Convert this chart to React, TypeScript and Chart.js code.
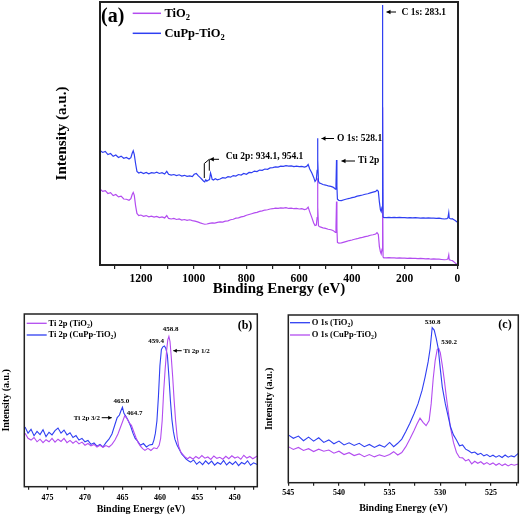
import React, { useEffect, useRef } from 'react';
import { Chart, registerables } from 'chart.js';

Chart.register(...registerables);

const SERIF = '"Liberation Serif", "Times New Roman", Times, serif';
const BLUE = '#2f3ff2';
const VIOLET = '#b34cf0';

type Pt = [number, number];

// ---------- Panel (a): survey spectra [binding energy eV, intensity a.u.] ----------
const surveyTiO2: Pt[] = [
  [1355, 28.9], [1345, 28.0], [1335, 28.3], [1325, 27.2], [1315, 27.5], [1305, 26.4], [1295, 26.8],
  [1285, 25.9], [1275, 26.2], [1265, 25.1], [1255, 25.0], [1245, 24.6], [1238, 25.2], [1233, 26.8],
  [1229, 27.6], [1225, 26.5], [1220, 22.5], [1215, 19.6], [1208, 18.8], [1200, 19.0], [1190, 18.5],
  [1180, 18.8], [1170, 18.3], [1160, 18.6], [1150, 18.2], [1140, 18.5], [1130, 18.0], [1120, 18.3],
  [1110, 17.9], [1102, 18.8], [1095, 17.7], [1085, 17.5], [1075, 17.7], [1065, 17.3], [1055, 17.5],
  [1045, 17.1], [1035, 17.3], [1025, 17.0], [1015, 17.2], [1005, 16.9], [995, 16.7], [985, 16.4],
  [975, 16.0], [965, 15.7], [958, 15.5], [950, 15.6], [940, 15.8], [930, 16.0], [920, 15.9],
  [910, 16.2], [900, 16.4], [890, 16.3], [880, 16.7], [870, 16.8], [860, 17.2], [850, 17.4],
  [840, 17.8], [830, 17.9], [820, 18.3], [810, 18.5], [800, 18.9], [790, 19.2], [780, 19.5],
  [770, 19.8], [760, 20.0], [750, 20.4], [740, 20.6], [730, 20.9], [720, 21.0], [710, 21.3],
  [700, 21.4], [690, 21.6], [680, 21.5], [670, 21.7], [660, 21.6], [650, 21.8], [640, 21.5],
  [630, 21.6], [620, 21.4], [610, 21.5], [600, 21.3], [590, 21.4], [580, 21.1], [572, 21.3],
  [566, 22.0], [560, 20.2], [552, 18.0], [545, 16.0], [540, 15.0], [535, 15.2], [532, 18.0],
  [530.5, 33.0], [529, 22.0], [527, 15.0], [524, 14.6], [518, 14.4], [510, 14.1], [500, 13.9],
  [490, 13.6], [480, 13.4], [472, 13.1], [466, 12.7], [463, 12.4], [460.5, 14.5], [458.5, 24.1],
  [457, 14.0], [455, 8.6], [450, 8.3], [440, 8.4], [430, 8.7], [420, 9.0], [410, 9.3], [400, 9.5],
  [390, 9.8], [380, 10.0], [370, 10.3], [360, 10.5], [350, 10.8], [340, 11.0], [330, 11.3],
  [320, 11.5], [310, 11.8], [305, 12.3], [300, 11.6], [296, 7.0], [292, 5.0], [289, 4.2],
  [286, 6.0], [284.5, 60.0], [283, 30.0], [282, 3.0], [280, 2.8], [270, 2.7], [260, 2.8],
  [250, 2.7], [240, 2.7], [230, 2.6], [220, 2.7], [210, 2.6], [200, 2.6], [190, 2.5], [180, 2.6],
  [170, 2.5], [160, 2.5], [150, 2.4], [140, 2.5], [130, 2.4], [120, 2.3], [110, 2.4], [100, 2.2],
  [90, 2.3], [80, 2.2], [70, 2.2], [60, 2.1], [50, 2.0], [40, 2.1], [36, 2.4], [33, 3.8],
  [31, 2.0], [25, 1.8], [20, 1.7], [15, 1.3], [10, 0.9], [5, 0.5], [0, 0.2],
];

const surveyCuPpTiO2: Pt[] = [
  [1355, 43.5], [1345, 42.8], [1335, 43.2], [1325, 42.0], [1315, 42.4], [1305, 41.3], [1295, 41.8],
  [1285, 40.9], [1275, 41.4], [1265, 40.6], [1255, 40.9], [1245, 40.3], [1238, 40.8], [1233, 42.5],
  [1229, 43.4], [1225, 42.0], [1220, 38.5], [1215, 35.6], [1208, 35.0], [1200, 35.3], [1190, 34.8],
  [1180, 35.2], [1170, 34.7], [1160, 35.1], [1150, 34.9], [1140, 35.3], [1130, 34.8], [1120, 35.1],
  [1110, 34.6], [1102, 35.6], [1095, 34.5], [1085, 34.2], [1075, 34.4], [1065, 34.0], [1055, 34.3],
  [1045, 33.8], [1035, 34.1], [1025, 33.7], [1015, 33.9], [1005, 33.6], [998, 34.5], [990, 34.8],
  [982, 33.9], [975, 33.2], [968, 32.5], [962, 31.8], [958, 31.6], [954, 32.4], [950, 31.9],
  [945, 32.2], [940, 32.5], [936, 35.0], [933, 34.0], [930, 32.6], [925, 32.3], [918, 32.8],
  [910, 32.4], [900, 32.7], [890, 33.2], [880, 33.0], [870, 33.6], [860, 33.4], [850, 34.0],
  [840, 33.8], [830, 34.4], [820, 34.2], [810, 34.8], [800, 34.5], [790, 35.2], [780, 35.1],
  [770, 35.7], [760, 35.5], [750, 36.1], [740, 36.0], [730, 36.5], [720, 36.4], [710, 36.9],
  [700, 37.0], [690, 37.3], [680, 37.2], [670, 37.6], [660, 37.5], [650, 37.8], [640, 37.6],
  [630, 37.7], [620, 37.4], [610, 37.6], [600, 37.4], [590, 37.5], [580, 37.2], [572, 37.5],
  [566, 38.2], [560, 36.5], [552, 35.0], [545, 33.3], [540, 31.8], [535, 32.5], [532, 36.0],
  [530.5, 48.2], [529, 40.0], [527, 32.0], [524, 31.2], [518, 31.0], [510, 30.6], [500, 30.4],
  [490, 30.1], [480, 29.9], [472, 29.6], [466, 29.2], [463, 28.8], [460.5, 30.5], [458.5, 39.9],
  [457, 30.0], [455, 25.0], [450, 24.6], [440, 24.5], [430, 24.8], [420, 25.1], [410, 25.3],
  [400, 25.6], [390, 25.8], [380, 26.2], [370, 26.4], [360, 26.6], [350, 26.9], [340, 27.1],
  [330, 27.4], [320, 27.7], [310, 28.0], [305, 28.5], [300, 28.0], [296, 24.0], [292, 21.0],
  [289, 20.3], [286, 22.0], [284.5, 98.9], [283, 60.0], [282, 18.3], [280, 18.1], [270, 18.0],
  [260, 18.1], [250, 18.0], [240, 18.1], [230, 18.0], [220, 18.1], [210, 18.0], [200, 18.0],
  [190, 17.9], [180, 18.0], [170, 17.9], [160, 18.0], [150, 17.9], [140, 17.8], [130, 17.9],
  [120, 17.8], [110, 17.9], [100, 17.8], [90, 17.8], [80, 17.7], [70, 17.8], [60, 17.6],
  [50, 17.5], [40, 17.6], [36, 18.0], [33, 19.9], [31, 17.8], [25, 17.5], [20, 17.6], [15, 17.3],
  [10, 17.0], [5, 16.6], [0, 16.2],
];

const surveyMajorTicks = [0, 200, 400, 600, 800, 1000, 1200];
const surveyMinorTicks = [100, 300, 500, 700, 900, 1100, 1300];

// ---------- Panel (b): Ti 2p ----------
const ti2pTiO2: Pt[] = [
  [478.0, 31.0], [477.6, 28.0], [477.2, 27.0], [476.8, 28.5], [476.4, 26.0], [476.0, 27.5],
  [475.6, 25.5], [475.2, 27.2], [474.8, 26.0], [474.4, 28.0], [474.0, 25.8], [473.6, 27.5],
  [473.2, 26.2], [472.8, 28.0], [472.4, 25.5], [472.0, 26.8], [471.6, 25.2], [471.2, 26.5],
  [470.8, 24.8], [470.4, 25.8], [470.0, 24.0], [469.6, 25.0], [469.2, 23.6], [468.8, 24.5],
  [468.4, 23.0], [468.0, 24.0], [467.6, 22.8], [467.2, 23.8], [466.8, 23.0], [466.4, 24.5],
  [466.0, 27.0], [465.6, 30.5], [465.3, 34.0], [465.0, 37.5], [464.7, 41.0], [464.4, 39.5],
  [464.1, 37.0], [463.8, 35.5], [463.5, 32.0], [463.2, 28.5], [462.9, 25.5], [462.6, 23.5],
  [462.3, 22.0], [462.0, 21.0], [461.6, 22.2], [461.2, 21.0], [460.8, 22.5], [460.4, 22.0],
  [460.1, 24.0], [459.9, 28.0], [459.7, 38.0], [459.5, 55.0], [459.3, 68.0], [459.1, 79.0],
  [458.95, 85.0], [458.8, 87.0], [458.65, 84.0], [458.5, 76.0], [458.3, 64.0], [458.1, 50.0],
  [457.9, 38.0], [457.7, 29.0], [457.5, 23.5], [457.2, 20.0], [456.9, 18.5], [456.6, 17.0],
  [456.3, 16.2], [456.0, 17.2], [455.6, 16.0], [455.2, 17.5], [454.8, 16.3], [454.4, 18.0],
  [454.0, 16.5], [453.6, 17.2], [453.2, 15.8], [452.8, 17.8], [452.4, 16.4], [452.0, 17.0],
  [451.6, 15.9], [451.2, 17.6], [450.8, 16.2], [450.4, 17.9], [450.0, 16.6], [449.6, 17.3],
  [449.2, 15.9], [448.8, 18.2], [448.4, 16.6], [448.0, 17.5], [447.6, 16.2], [447.0, 17.8],
];

const ti2pCuPpTiO2: Pt[] = [
  [478.0, 34.5], [477.6, 31.0], [477.2, 33.2], [476.8, 29.5], [476.4, 32.0], [476.0, 30.2],
  [475.6, 33.0], [475.2, 29.0], [474.8, 31.5], [474.4, 30.0], [474.0, 32.5], [473.6, 34.0],
  [473.2, 31.0], [472.8, 32.8], [472.4, 30.0], [472.0, 31.2], [471.6, 28.5], [471.2, 29.6],
  [470.8, 27.0], [470.4, 28.0], [470.0, 26.0], [469.6, 26.8], [469.2, 24.5], [468.8, 25.3],
  [468.4, 23.5], [468.0, 24.5], [467.6, 23.0], [467.2, 25.5], [466.8, 27.5], [466.4, 30.5],
  [466.0, 36.0], [465.7, 40.0], [465.4, 41.5], [465.2, 44.0], [465.0, 46.0], [464.8, 42.5],
  [464.5, 40.5], [464.2, 38.0], [463.9, 35.0], [463.6, 31.0], [463.3, 28.0], [463.0, 26.5],
  [462.6, 24.0], [462.2, 25.0], [461.8, 23.0], [461.4, 24.2], [461.0, 24.5], [460.8, 27.0],
  [460.6, 31.0], [460.4, 38.0], [460.2, 52.0], [460.0, 70.0], [459.8, 79.5], [459.6, 81.0],
  [459.4, 81.5], [459.2, 80.0], [459.0, 76.0], [458.8, 64.0], [458.6, 50.0], [458.4, 39.0],
  [458.2, 32.0], [458.0, 27.5], [457.7, 24.0], [457.4, 21.5], [457.1, 19.0], [456.8, 17.5],
  [456.5, 16.0], [456.2, 15.0], [455.9, 14.2], [455.5, 15.5], [455.1, 13.0], [454.7, 14.5],
  [454.3, 12.8], [453.9, 15.0], [453.5, 13.2], [453.1, 14.8], [452.7, 12.5], [452.3, 14.0],
  [451.9, 13.0], [451.5, 15.2], [451.1, 12.6], [450.7, 14.3], [450.3, 12.9], [449.9, 14.6],
  [449.5, 12.2], [449.1, 14.0], [448.7, 13.1], [448.3, 15.0], [447.9, 12.4], [447.5, 13.8],
  [447.0, 12.8],
];

const ti2pMajorTicks = [450, 455, 460, 465, 470, 475];
const ti2pMinorTicks = [447.5, 452.5, 457.5, 462.5, 467.5, 472.5, 477.5];

// ---------- Panel (c): O 1s ----------
const o1sTiO2: Pt[] = [
  [545.0, 28.5], [544.5, 26.5], [544.0, 27.8], [543.5, 25.0], [543.0, 27.2], [542.5, 24.8],
  [542.0, 26.8], [541.5, 24.0], [541.0, 25.5], [540.5, 23.2], [540.0, 24.8], [539.5, 22.5],
  [539.0, 23.8], [538.5, 22.2], [538.0, 23.5], [537.5, 21.5], [537.0, 22.8], [536.5, 21.0],
  [536.0, 22.5], [535.5, 21.2], [535.0, 24.0], [534.6, 21.5], [534.2, 23.5], [533.8, 26.0],
  [533.4, 30.5], [533.0, 35.5], [532.6, 41.0], [532.2, 47.0], [531.8, 55.0], [531.5, 63.0],
  [531.2, 72.0], [531.0, 80.0], [530.8, 92.5], [530.6, 91.0], [530.4, 86.0], [530.2, 80.0],
  [530.0, 68.0], [529.8, 57.0], [529.5, 47.0], [529.2, 39.0], [529.0, 33.5], [528.7, 28.5],
  [528.4, 25.5], [528.1, 22.0], [527.8, 22.5], [527.5, 20.0], [527.2, 19.0], [526.9, 17.8],
  [526.6, 18.3], [526.3, 16.8], [526.0, 17.5], [525.7, 16.0], [525.4, 16.8], [525.1, 15.5],
  [524.8, 16.4], [524.5, 15.2], [524.2, 16.2], [523.9, 15.0], [523.6, 16.5], [523.3, 15.2],
  [523.0, 16.0], [522.7, 15.4], [522.3, 17.5],
];

const o1sCuPpTiO2: Pt[] = [
  [545.0, 21.5], [544.5, 19.8], [544.0, 21.0], [543.5, 19.2], [543.0, 20.3], [542.5, 18.6],
  [542.0, 20.0], [541.5, 18.8], [541.0, 19.5], [540.5, 17.6], [540.0, 18.8], [539.5, 16.8],
  [539.0, 17.9], [538.5, 16.2], [538.0, 17.2], [537.5, 15.5], [537.0, 16.8], [536.5, 15.4],
  [536.0, 16.6], [535.5, 15.6], [535.0, 16.8], [534.6, 18.5], [534.2, 16.5], [533.8, 18.0],
  [533.4, 21.5], [533.0, 26.0], [532.6, 31.0], [532.3, 35.0], [532.0, 38.5], [531.7, 36.0],
  [531.4, 34.0], [531.1, 37.0], [530.9, 47.0], [530.7, 62.0], [530.5, 73.0], [530.3, 79.5],
  [530.15, 80.0], [530.0, 77.5], [529.8, 70.0], [529.6, 61.0], [529.4, 51.0], [529.2, 42.0],
  [529.0, 33.0], [528.7, 24.0], [528.4, 18.0], [528.1, 15.0], [527.8, 14.8], [527.5, 13.0],
  [527.2, 13.8], [526.9, 11.2], [526.6, 12.8], [526.3, 11.6], [526.0, 12.5], [525.7, 11.0],
  [525.4, 12.0], [525.1, 10.8], [524.8, 11.8], [524.5, 10.4], [524.2, 11.5], [523.9, 10.2],
  [523.6, 11.2], [523.3, 10.0], [523.0, 11.0], [522.7, 10.4], [522.3, 11.2],
];

const o1sMajorTicks = [525, 530, 535, 540, 545];
const o1sMinorTicks = [522.5, 527.5, 532.5, 537.5, 542.5];

// ---------- drawing helpers ----------
type Part = [string, boolean];

function rich(ctx: CanvasRenderingContext2D, parts: Part[], x: number, y: number, size: number,
  align: 'left' | 'center' | 'right' = 'left') {
  const main = `bold ${size}px ${SERIF}`;
  const sub = `bold ${size * 0.68}px ${SERIF}`;
  ctx.save();
  ctx.fillStyle = '#000';
  ctx.textBaseline = 'middle';
  ctx.textAlign = 'left';
  let total = 0;
  for (const [t, s] of parts) { ctx.font = s ? sub : main; total += ctx.measureText(t).width; }
  let cx = align === 'left' ? x : align === 'center' ? x - total / 2 : x - total;
  for (const [t, s] of parts) {
    ctx.font = s ? sub : main;
    ctx.fillText(t, cx, s ? y + size * 0.32 : y);
    cx += ctx.measureText(t).width;
  }
  ctx.restore();
}

function line(ctx: CanvasRenderingContext2D, pts: number[][], color: string, lw: number) {
  ctx.save();
  ctx.strokeStyle = color;
  ctx.lineWidth = lw;
  ctx.beginPath();
  pts.forEach(([x, y], i) => (i === 0 ? ctx.moveTo(x, y) : ctx.lineTo(x, y)));
  ctx.stroke();
  ctx.restore();
}

function arrow(ctx: CanvasRenderingContext2D, x1: number, y1: number, x2: number, y2: number, head = 4) {
  line(ctx, [[x1, y1], [x2, y2]], '#000', 1);
  const a = Math.atan2(y2 - y1, x2 - x1);
  ctx.save();
  ctx.fillStyle = '#000';
  ctx.beginPath();
  ctx.moveTo(x2, y2);
  ctx.lineTo(x2 - head * Math.cos(a) + head * 0.55 * Math.sin(a), y2 - head * Math.sin(a) - head * 0.55 * Math.cos(a));
  ctx.lineTo(x2 - head * Math.cos(a) - head * 0.55 * Math.sin(a), y2 - head * Math.sin(a) + head * 0.55 * Math.cos(a));
  ctx.closePath();
  ctx.fill();
  ctx.restore();
}

interface Spec {
  left: number; top: number; width: number; height: number;
  padding: { left: number; top: number; right: number; bottom: number };
  yWidth: number; xHeight: number;
  xMin: number; xMax: number;
  majors: number[]; minors: number[];
  tickFont: number; tickPad: number; tickLen: number;
  titleFont: number; frameWidth: number;
  datasets: { pts: Pt[]; color: string; width: number }[];
  draw: (ctx: CanvasRenderingContext2D) => void;
}

function Panel({ spec }: { spec: Spec }) {
  const ref = useRef<HTMLCanvasElement | null>(null);
  useEffect(() => {
    if (!ref.current) return;
    const allTicks = [...spec.majors, ...spec.minors].sort((a, b) => a - b);
    const chart = new Chart(ref.current, {
      type: 'line',
      data: {
        datasets: spec.datasets.map((d) => ({
          data: d.pts.map(([x, y]) => ({ x, y })),
          borderColor: d.color,
          borderWidth: d.width,
          pointRadius: 0,
          fill: false,
          tension: 0,
        })),
      },
      options: {
        responsive: false,
        animation: false,
        events: [],
        layout: { padding: spec.padding },
        plugins: { legend: { display: false }, tooltip: { enabled: false }, title: { display: false } },
        scales: {
          x: {
            type: 'linear',
            reverse: true,
            min: spec.xMin,
            max: spec.xMax,
            afterBuildTicks: (s: any) => { s.ticks = allTicks.map((v) => ({ value: v })); },
            afterFit: (s: any) => { s.height = spec.xHeight; },
            ticks: {
              autoSkip: false, maxRotation: 0, minRotation: 0, padding: spec.tickPad, color: '#000',
              font: { family: SERIF, size: spec.tickFont, weight: 'bold' },
              callback: (v: any) => (spec.majors.includes(Number(v)) ? String(v) : ''),
            },
            grid: { display: true, drawOnChartArea: false, drawTicks: true, tickLength: spec.tickLen, color: '#222', lineWidth: 1.2 },
            border: { display: false },
            title: {
              display: true, text: 'Binding Energy (eV)', color: '#000',
              font: { family: SERIF, size: spec.titleFont, weight: 'bold' }, padding: { top: 0, bottom: 0 },
            },
          },
          y: {
            type: 'linear', min: 0, max: 100,
            ticks: { display: false }, grid: { display: false }, border: { display: false },
            afterFit: (s: any) => { s.width = spec.yWidth; },
            title: {
              display: true, text: 'Intensity (a.u.)', color: '#000',
              font: { family: SERIF, size: spec.titleFont, weight: 'bold' }, padding: { top: 0, bottom: 0 },
            },
          },
        },
      } as any,
      plugins: [{
        id: 'frameAndNotes',
        afterDraw(c: any) {
          const { ctx, chartArea: a } = c;
          ctx.save();
          ctx.strokeStyle = '#222';
          ctx.lineWidth = spec.frameWidth;
          ctx.strokeRect(a.left, a.top, a.right - a.left, a.bottom - a.top);
          ctx.restore();
          spec.draw(ctx);
        },
      }],
    });
    return () => chart.destroy();
  }, [spec]);
  return (
    <canvas ref={ref} width={spec.width} height={spec.height}
      style={{ position: 'absolute', left: spec.left, top: spec.top, width: spec.width, height: spec.height }} />
  );
}

const specA: Spec = {
  left: 0, top: 0, width: 520, height: 298,
  padding: { left: 53, top: 2, right: 62, bottom: 0 },
  yWidth: 47, xHeight: 33, xMin: -2, xMax: 1355,
  majors: surveyMajorTicks, minors: surveyMinorTicks,
  tickFont: 11.5, tickPad: 3, tickLen: 4, titleFont: 15, frameWidth: 2,
  datasets: [
    { pts: surveyCuPpTiO2, color: BLUE, width: 1.2 },
    { pts: surveyTiO2, color: VIOLET, width: 1.2 },
  ],
  draw: (ctx) => {
    rich(ctx, [['(a)', false]], 101, 17, 20);
    line(ctx, [[132.7, 13.3], [161, 13.3]], VIOLET, 1.5);
    rich(ctx, [['TiO', false], ['2', true]], 164.5, 13.5, 12.5);
    line(ctx, [[132.7, 33.3], [161, 33.3]], BLUE, 1.5);
    rich(ctx, [['CuPp-TiO', false], ['2', true]], 164.5, 33.5, 12.5);
    arrow(ctx, 396, 12, 386.5, 12);
    rich(ctx, [['C 1s: 283.1', false]], 401.5, 12.5, 9.5);
    arrow(ctx, 334, 138.5, 321.5, 138.5);
    rich(ctx, [['O 1s: 528.1', false]], 337, 138.5, 9.5);
    arrow(ctx, 355, 161, 341.5, 161);
    rich(ctx, [['Ti 2p', false]], 358, 161, 9.5);
    line(ctx, [[204.3, 178], [204.3, 163.5], [209.3, 159.3], [209.3, 170.7]], '#000', 1);
    arrow(ctx, 219, 159.3, 209.8, 159.3);
    rich(ctx, [['Cu 2p: 934.1, 954.1', false]], 225.7, 157, 9.5);
  },
};

const specB: Spec = {
  left: 0, top: 300, width: 262, height: 216,
  padding: { left: 0, top: 14, right: 4.7, bottom: 0.6 },
  yWidth: 24.3, xHeight: 28.7, xMin: 447, xMax: 478.1,
  majors: ti2pMajorTicks, minors: ti2pMinorTicks,
  tickFont: 8, tickPad: 3, tickLen: 3, titleFont: 10, frameWidth: 1.5,
  datasets: [
    { pts: ti2pTiO2, color: VIOLET, width: 1.1 },
    { pts: ti2pCuPpTiO2, color: BLUE, width: 1.1 },
  ],
  draw: (ctx) => {
    line(ctx, [[26.7, 23.3], [46.7, 23.3]], VIOLET, 1.3);
    rich(ctx, [['Ti 2p (TiO', false], ['2', true], [')', false]], 48.5, 23.5, 8.5);
    line(ctx, [[26.7, 35], [46.7, 35]], BLUE, 1.3);
    rich(ctx, [['Ti 2p (CuPp-TiO', false], ['2', true], [')', false]], 48.5, 35.2, 8.5);
    rich(ctx, [['(b)', false]], 245, 25.7, 12, 'center');
    rich(ctx, [['458.8', false]], 170.5, 29, 7, 'center');
    rich(ctx, [['459.4', false]], 156, 40.7, 7, 'center');
    arrow(ctx, 181.7, 50.7, 173.3, 50.7, 3.5);
    rich(ctx, [['Ti 2p 1/2', false]], 183.5, 50.9, 7);
    rich(ctx, [['465.0', false]], 121.3, 100.7, 7, 'center');
    rich(ctx, [['464.7', false]], 134.7, 113.3, 7, 'center');
    rich(ctx, [['Ti 2p 3/2', false]], 100, 117.9, 7, 'right');
    arrow(ctx, 101.7, 117.7, 111.7, 117.7, 3.5);
  },
};

const specC: Spec = {
  left: 262, top: 300, width: 258, height: 216,
  padding: { left: 1.3, top: 15, right: 1.7, bottom: 2 },
  yWidth: 25, xHeight: 31.3, xMin: 522.3, xMax: 545,
  majors: o1sMajorTicks, minors: o1sMinorTicks,
  tickFont: 8, tickPad: 2.2, tickLen: 3, titleFont: 10, frameWidth: 1.5,
  datasets: [
    { pts: o1sTiO2, color: BLUE, width: 1.1 },
    { pts: o1sCuPpTiO2, color: VIOLET, width: 1.1 },
  ],
  draw: (ctx) => {
    line(ctx, [[28, 22.7], [48, 22.7]], BLUE, 1.3);
    rich(ctx, [['O 1s (TiO', false], ['2', true], [')', false]], 49.7, 22.9, 8.5);
    line(ctx, [[28, 35], [48, 35]], VIOLET, 1.3);
    rich(ctx, [['O 1s (CuPp-TiO', false], ['2', true], [')', false]], 49.7, 35.2, 8.5);
    rich(ctx, [['(c)', false]], 243, 25, 12, 'center');
    rich(ctx, [['530.8', false]], 170.5, 21.7, 7, 'center');
    rich(ctx, [['530.2', false]], 187, 42.3, 7, 'center');
  },
};

export default function App() {
  return (
    <div style={{ position: 'fixed', left: 0, top: 0, width: 520, height: 516, background: '#fff', overflow: 'hidden' }}>
      <Panel spec={specA} />
      <Panel spec={specB} />
      <Panel spec={specC} />
    </div>
  );
}
